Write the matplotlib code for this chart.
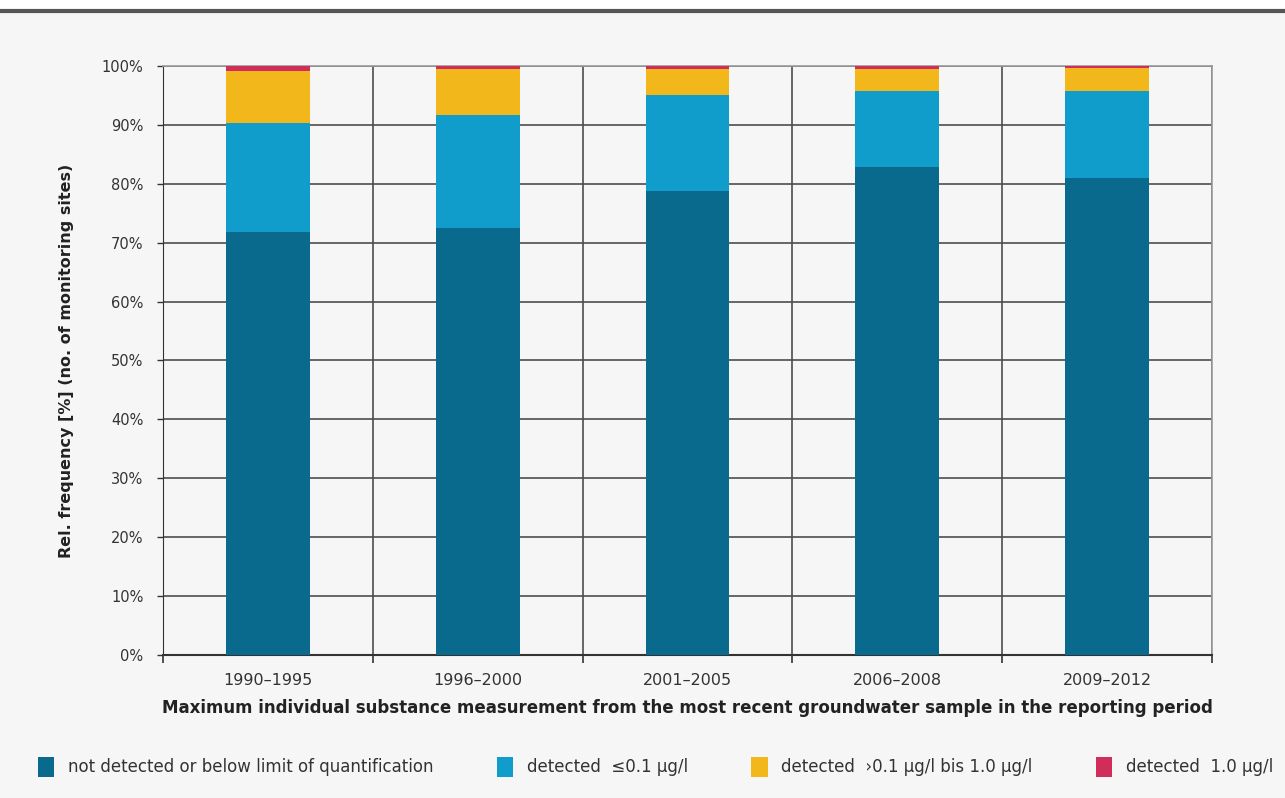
import numpy as np
import matplotlib.pyplot as plt
from matplotlib.patches import Rectangle
from matplotlib.ticker import MultipleLocator, FixedLocator

periods = ['1990–1995', '1996–2000', '2001–2005', '2006–2008', '2009–2012']
not_detected = [71.8, 72.5, 78.8, 82.9, 81.0]
detected_low = [18.6, 19.2, 16.3, 12.9, 14.8]
detected_mid = [8.8, 7.8, 4.4, 3.7, 3.9]
detected_high = [0.8, 0.5, 0.5, 0.5, 0.3]

labels = ['not detected or below limit of quantification',
          'detected  ≤0.1 µg/l',
          'detected  ›0.1 µg/l bis 1.0 µg/l',
          'detected  1.0 µg/l']
colors = ['#0a6a8d', '#119dcc', '#f2b71b', '#d02d5a']

plt.rcParams['font.family'] = ['DejaVu Sans']
bg = '#f6f6f6'
grid_col = '#4d4d4d'

fig = plt.figure(figsize=(12.85, 7.98), dpi=100, facecolor=bg)
ax = fig.add_axes([0.1268, 0.1792, 0.8164, 0.7381], facecolor=bg)

# white strip and rule at the top (cut-off heading)
fig.patches.append(Rectangle((0, 0.985), 1, 0.015, transform=fig.transFigure,
                             facecolor='white', edgecolor='none'))
fig.lines.append(plt.Line2D([0, 1], [0.986, 0.986], transform=fig.transFigure,
                            color='#555555', lw=3))

x = np.arange(len(periods))
series = [not_detected, detected_low, detected_mid, detected_high]
bottom = np.zeros(len(periods))
handles = []
for vals, col, lab in zip(series, colors, labels):
    b = ax.bar(x, vals, width=0.4, bottom=bottom, color=col, label=lab, zorder=3)
    handles.append(b)
    bottom += np.array(vals)

ax.set_xlim(-0.5, len(periods) - 0.5)
ax.set_ylim(0, 100)
ax.yaxis.set_major_locator(MultipleLocator(10))
ax.set_yticklabels([f'{int(v)}%' for v in ax.get_yticks()])
ax.set_xticks(x)
ax.set_xticklabels(periods)
ax.xaxis.set_minor_locator(FixedLocator(np.arange(-0.5, len(periods), 1)))

ax.grid(axis='y', color=grid_col, lw=1.2, zorder=1)
ax.grid(axis='x', which='minor', color=grid_col, lw=1.2, zorder=1)
ax.tick_params(axis='x', which='major', length=0, pad=13, labelsize=11.5, colors='#333333')
ax.tick_params(axis='x', which='minor', length=6, width=1.2, color='#333333')
ax.tick_params(axis='y', length=4, width=1, color='#333333', labelsize=10.5,
               labelcolor='#333333', pad=10)

for s in ['top', 'right']:
    ax.spines[s].set_color('#9a9a9a')
    ax.spines[s].set_linewidth(1.2)
ax.spines['left'].set_color('#333333')
ax.spines['bottom'].set_color('#333333')
ax.spines['bottom'].set_linewidth(1.5)

ax.set_ylabel('Rel. frequency [%] (no. of monitoring sites)', fontsize=11.5,
              fontweight='bold', color='#222222', labelpad=20)
ax.set_xlabel('Maximum individual substance measurement from the most recent '
              'groundwater sample in the reporting period', fontsize=12,
              fontweight='bold', color='#222222', labelpad=8)

leg = fig.legend(handles=handles, labels=labels, ncol=4, loc='center',
                 bbox_to_anchor=(0.510, 0.039), frameon=False, fontsize=12,
                 handlelength=1.0, handleheight=1.4, handletextpad=0.8,
                 columnspacing=3.8)
for t in leg.get_texts():
    t.set_color('#333333')

fig.savefig('out.png', dpi=100, facecolor=bg)
